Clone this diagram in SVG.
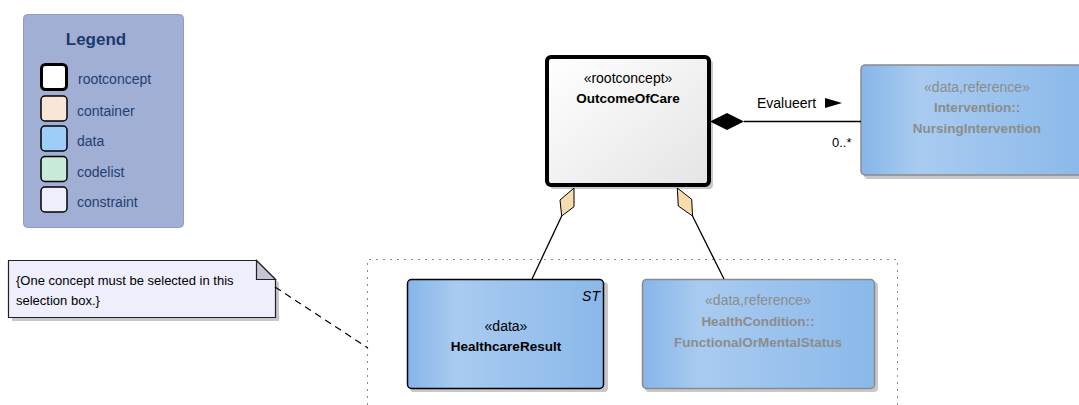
<svg xmlns="http://www.w3.org/2000/svg" width="1079" height="405" viewBox="0 0 1079 405">
<style>
text{font-family:"Liberation Sans",Arial,sans-serif;}
.lg{font-size:14px;fill:#1f3f73;}
.st{font-size:14px;fill:#000;text-anchor:middle;}
.nm{font-size:13.5px;font-weight:bold;fill:#000;text-anchor:middle;}
.gst{font-size:14px;fill:#8c8c8c;text-anchor:middle;}
.gnm{font-size:13.5px;font-weight:bold;fill:#8c8c8c;text-anchor:middle;}
.sw{stroke:#000;stroke-width:1.5;}
.shadow{fill:#c8c8c8;}
.line{stroke:#000;stroke-width:1.3;fill:none;}
</style>
<defs>
<linearGradient id="gData" x1="0" y1="0" x2="1" y2="0">
<stop offset="0" stop-color="#86b5e9"/>
<stop offset="0.25" stop-color="#a9cbf0"/>
<stop offset="1" stop-color="#8ab8ea"/>
</linearGradient>
<linearGradient id="gRoot" x1="0" y1="0" x2="1" y2="1">
<stop offset="0" stop-color="#ffffff"/>
<stop offset="1" stop-color="#e4e4e4"/>
</linearGradient>
</defs>

<g id="legend">
<rect x="23.5" y="14.5" width="160" height="213" rx="4" fill="#a0afd3" stroke="#8d9dc6"/>
<text x="96" y="45" style="font-size:17px;font-weight:bold;fill:#1b3a6b;text-anchor:middle">Legend</text>
<rect x="41.5" y="64.5" width="25" height="25" rx="4" fill="#ffffff" stroke="#000" stroke-width="3"/>
<text class="lg" x="78" y="84">rootconcept</text>
<rect class="sw" x="41" y="96" width="26" height="25" rx="4" fill="#f8e6d8"/>
<text class="lg" x="77" y="116">container</text>
<rect class="sw" x="41" y="126" width="26" height="25" rx="4" fill="#9ecdf8"/>
<text class="lg" x="77" y="146">data</text>
<rect class="sw" x="41" y="156.5" width="26" height="25" rx="4" fill="#c7ead9"/>
<text class="lg" x="77" y="176.5">codelist</text>
<rect class="sw" x="41" y="187" width="26" height="25" rx="4" fill="#eeeefc"/>
<text class="lg" x="77" y="206.5">constraint</text>
</g>

<g id="selection-box">
<path d="M367.5 405 V259.5 H897.5 V405" fill="none" stroke="#8a8a8a" stroke-width="1" stroke-dasharray="2 5"/>
</g>

<g id="note">
<polygon points="12,264 260,264 279,283 279,321 12,321" class="shadow"/>
<polygon points="8.5,260.5 256.5,260.5 275.5,279.5 275.5,317.5 8.5,317.5" fill="#eeeefc" stroke="#222" stroke-width="1.2"/>
<polygon points="256.5,260.5 256.5,279.5 275.5,279.5" fill="#c4c6d8" stroke="#222" stroke-width="1.2"/>
<text x="16" y="285" style="font-size:13px;fill:#000">{One concept must be selected in this</text>
<text x="16" y="305" style="font-size:13px;fill:#000">selection box.}</text>
</g>

<g id="OutcomeOfCare">
<rect x="550" y="60" width="163" height="129" rx="4" class="shadow"/>
<rect x="547" y="57" width="162" height="128" rx="4" fill="url(#gRoot)" stroke="#000" stroke-width="4"/>
<text class="st" x="628" y="83">«rootconcept»</text>
<text class="nm" x="628" y="103">OutcomeOfCare</text>
</g>

<g id="NursingIntervention">
<rect x="864" y="68" width="230" height="111" rx="4" class="shadow"/>
<rect x="861" y="65" width="230" height="110" rx="4" fill="url(#gData)" stroke="#8a8a8a" stroke-width="1.5"/>
<text class="gst" x="977" y="92">«data,reference»</text>
<text class="gnm" x="977" y="112">Intervention::</text>
<text class="gnm" x="977" y="133">NursingIntervention</text>
</g>

<g id="HealthcareResult">
<rect x="410" y="282" width="198" height="110" rx="4" class="shadow"/>
<rect x="407.5" y="279.5" width="196" height="109" rx="4" fill="url(#gData)" stroke="#000" stroke-width="1.5"/>
<text x="600" y="301" style="font-size:14px;font-style:italic;fill:#000;text-anchor:end">ST</text>
<text class="st" x="506" y="331">«data»</text>
<text class="nm" x="506" y="351">HealthcareResult</text>
</g>

<g id="FunctionalOrMentalStatus">
<rect x="645" y="282" width="233" height="110" rx="4" class="shadow"/>
<rect x="642.5" y="279.5" width="232" height="109" rx="4" fill="url(#gData)" stroke="#8a8a8a" stroke-width="1.5"/>
<text class="gst" x="758" y="305">«data,reference»</text>
<text class="gnm" x="758" y="326">HealthCondition::</text>
<text class="gnm" x="758" y="347">FunctionalOrMentalStatus</text>
</g>

<g id="connectors">
<line class="line" x1="744" y1="121.5" x2="861" y2="121.5"/>
<polygon points="710,121.5 727,113 744,121.5 727,130" fill="#000"/>
<text x="757" y="108" style="font-size:14px;fill:#000">Evalueert</text>
<polygon points="825,98 842,103 825,108" fill="#000"/>
<text x="832" y="147" style="font-size:13px;fill:#000">0..*</text>
<line class="line" x1="561.7" y1="216" x2="532" y2="279"/>
<polygon points="574,188 574,206.7 561.7,216 560,200" fill="#f7dcae" stroke="#000" stroke-width="1"/>
<line class="line" x1="692.5" y1="216" x2="724" y2="279"/>
<polygon points="677.3,188 691.7,199.3 692.5,216 678.3,206" fill="#f7dcae" stroke="#000" stroke-width="1"/>
<line x1="275" y1="287" x2="368" y2="348" stroke="#000" stroke-width="1.2" stroke-dasharray="7 5"/>
</g>
</svg>
